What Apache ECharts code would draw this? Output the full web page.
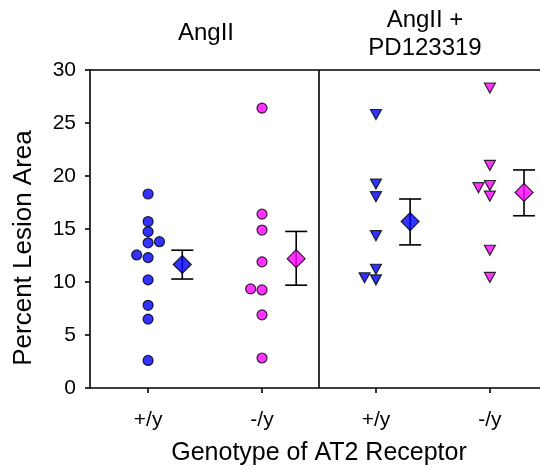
<!DOCTYPE html>
<html>
<head>
<meta charset="utf-8">
<script src="https://cdn.jsdelivr.net/npm/echarts@6/dist/echarts.min.js"></script>
<style>html,body{margin:0;padding:0;background:#fff;}#c{width:540px;height:469px;}</style>
</head>
<body>
<div id="c"></div>
<script>
// Categories (x positions 1..4)
var categories = ['+/y', '-/y', '+/y', '-/y'];
var groupTitles = ['AngII', 'AngII +\nPD123319'];
var yTicks = [0, 5, 10, 15, 20, 25, 30];

// Individual points: [x (category index + jitter), percent lesion area]
var angWT = [[1, 18.3], [1, 15.7], [1, 14.75], [1, 13.7], [1.1, 13.8], [0.9, 12.55], [1, 12.3], [1, 10.2], [1, 7.8], [1, 6.5], [1, 2.6]];
var angKO = [[2, 26.4], [2, 16.4], [2, 14.9], [2, 11.9], [1.9, 9.35], [2, 9.25], [2, 6.9], [2, 2.83]];
var pdWT = [[3, 25.8], [3, 19.25], [3, 18.05], [3, 14.37], [3, 11.2], [2.9, 10.4], [3, 10.2]];
var pdKO = [[4, 28.3], [4, 21.0], [3.9, 18.9], [4, 19.1], [4, 18.1], [4, 13.0], [4, 10.43]];

// Group means and error bar limits (mean ± SEM), plotted right of each group
var meanX = [1.3, 2.3, 3.3, 4.3];
var means = [11.65, 12.2, 15.7, 18.45];
var errLow = [10.28, 9.7, 13.5, 16.25];
var errHigh = [13.0, 14.77, 17.83, 20.57];

var BLUE = '#0000ff', MAG = '#ff00ff';
var FONT = '"Liberation Sans", Arial, sans-serif';

var chart = echarts.init(document.getElementById('c'), null, {renderer: 'canvas'});

function meanData(i) { return [[meanX[i], means[i]]]; }
var errData = meanX.map(function (x, i) { return [x, errLow[i], errHigh[i]]; });

var option = {
  backgroundColor: '#fff',
  animation: false,
  grid: {left: 90, top: 70, bottom: 81, right: -1, containLabel: false},
  xAxis: [{
    type: 'value', min: 0.49, max: 4.44, position: 'bottom',
    splitLine: {show: false},
    axisLine: {show: true, onZero: false, lineStyle: {color: '#000', width: 1.6}},
    axisTick: {show: true, inside: false, length: 5, lineStyle: {color: '#000', width: 1.6}, customValues: [1, 2, 3, 4]},
    axisLabel: {show: true, fontSize: 21, fontFamily: FONT, color: '#000', margin: 22,
      customValues: [1, 2, 3, 4],
      formatter: function (v) { return categories[Math.round(v) - 1] || ''; }}
  }, {
    type: 'value', min: 0.49, max: 4.44, position: 'top',
    splitLine: {show: false},
    axisLine: {show: true, onZero: false, lineStyle: {color: '#000', width: 1.6}},
    axisTick: {show: false}, axisLabel: {show: false}
  }],
  yAxis: {
    type: 'value', min: 0, max: 30, interval: 5,
    splitLine: {show: false},
    axisLine: {show: true, lineStyle: {color: '#000', width: 1.6}},
    axisTick: {show: true, inside: false, length: 5, lineStyle: {color: '#000', width: 1.6}},
    axisLabel: {fontSize: 21, fontFamily: FONT, color: '#000', margin: 14,
      formatter: function (v) { return yTicks.indexOf(v) >= 0 ? String(v) : ''; }}
  },
  graphic: [
    {type: 'text', x: 206, y: 33, style: {text: groupTitles[0], font: '24px ' + FONT, fill: '#000', textAlign: 'center', textVerticalAlign: 'middle'}},
    {type: 'text', x: 425, y: 34, style: {text: groupTitles[1], font: '24px ' + FONT, fill: '#000', textAlign: 'center', textVerticalAlign: 'middle', lineHeight: 28}},
    {type: 'text', x: 319, y: 453, style: {text: 'Genotype of AT2 Receptor', font: '25px ' + FONT, fill: '#000', textAlign: 'center', textVerticalAlign: 'middle'}},
    {type: 'text', x: 24, y: 248, rotation: Math.PI / 2, style: {text: 'Percent Lesion Area', font: '26px ' + FONT, fill: '#000', textAlign: 'center', textVerticalAlign: 'middle'}}
  ],
  series: [
    {type: 'scatter', data: angWT, symbol: 'circle', symbolSize: 10,
      itemStyle: {color: BLUE, borderColor: '#000', borderWidth: 1.2}, z: 5,
      markLine: {silent: true, symbol: 'none', label: {show: false},
        lineStyle: {color: '#000', width: 1.6, type: 'solid'}, data: [{xAxis: 2.5}]}},
    {type: 'scatter', data: angKO, symbol: 'circle', symbolSize: 10,
      itemStyle: {color: MAG, borderColor: '#000', borderWidth: 1.2}, z: 5},
    {type: 'scatter', data: pdWT, symbol: 'triangle', symbolRotate: 180, symbolSize: [11, 10],
      itemStyle: {color: BLUE, borderColor: '#000', borderWidth: 1.2}, z: 5},
    {type: 'scatter', data: pdKO, symbol: 'triangle', symbolRotate: 180, symbolSize: [11, 10],
      itemStyle: {color: MAG, borderColor: '#000', borderWidth: 1.2}, z: 5},
    {type: 'custom', data: errData, z: 4,
      renderItem: function (params, api) {
        var x = api.value(0);
        var lo = api.coord([x, api.value(1)]);
        var hi = api.coord([x, api.value(2)]);
        var hw = 11;
        var st = {stroke: '#000', lineWidth: 1.6};
        return {type: 'group', children: [
          {type: 'line', shape: {x1: lo[0], y1: lo[1], x2: hi[0], y2: hi[1]}, style: st},
          {type: 'line', shape: {x1: lo[0] - hw, y1: lo[1], x2: lo[0] + hw, y2: lo[1]}, style: st},
          {type: 'line', shape: {x1: hi[0] - hw, y1: hi[1], x2: hi[0] + hw, y2: hi[1]}, style: st}
        ]};
      }},
    {type: 'scatter', data: meanData(0), symbol: 'diamond', symbolSize: 18, itemStyle: {color: BLUE, borderColor: '#000', borderWidth: 1.2}, z: 6},
    {type: 'scatter', data: meanData(1), symbol: 'diamond', symbolSize: 18, itemStyle: {color: MAG, borderColor: '#000', borderWidth: 1.2}, z: 6},
    {type: 'scatter', data: meanData(2), symbol: 'diamond', symbolSize: 18, itemStyle: {color: BLUE, borderColor: '#000', borderWidth: 1.2}, z: 6},
    {type: 'scatter', data: meanData(3), symbol: 'diamond', symbolSize: 18, itemStyle: {color: MAG, borderColor: '#000', borderWidth: 1.2}, z: 6}
  ]
};
chart.setOption(option);
</script>
</body>
</html>
